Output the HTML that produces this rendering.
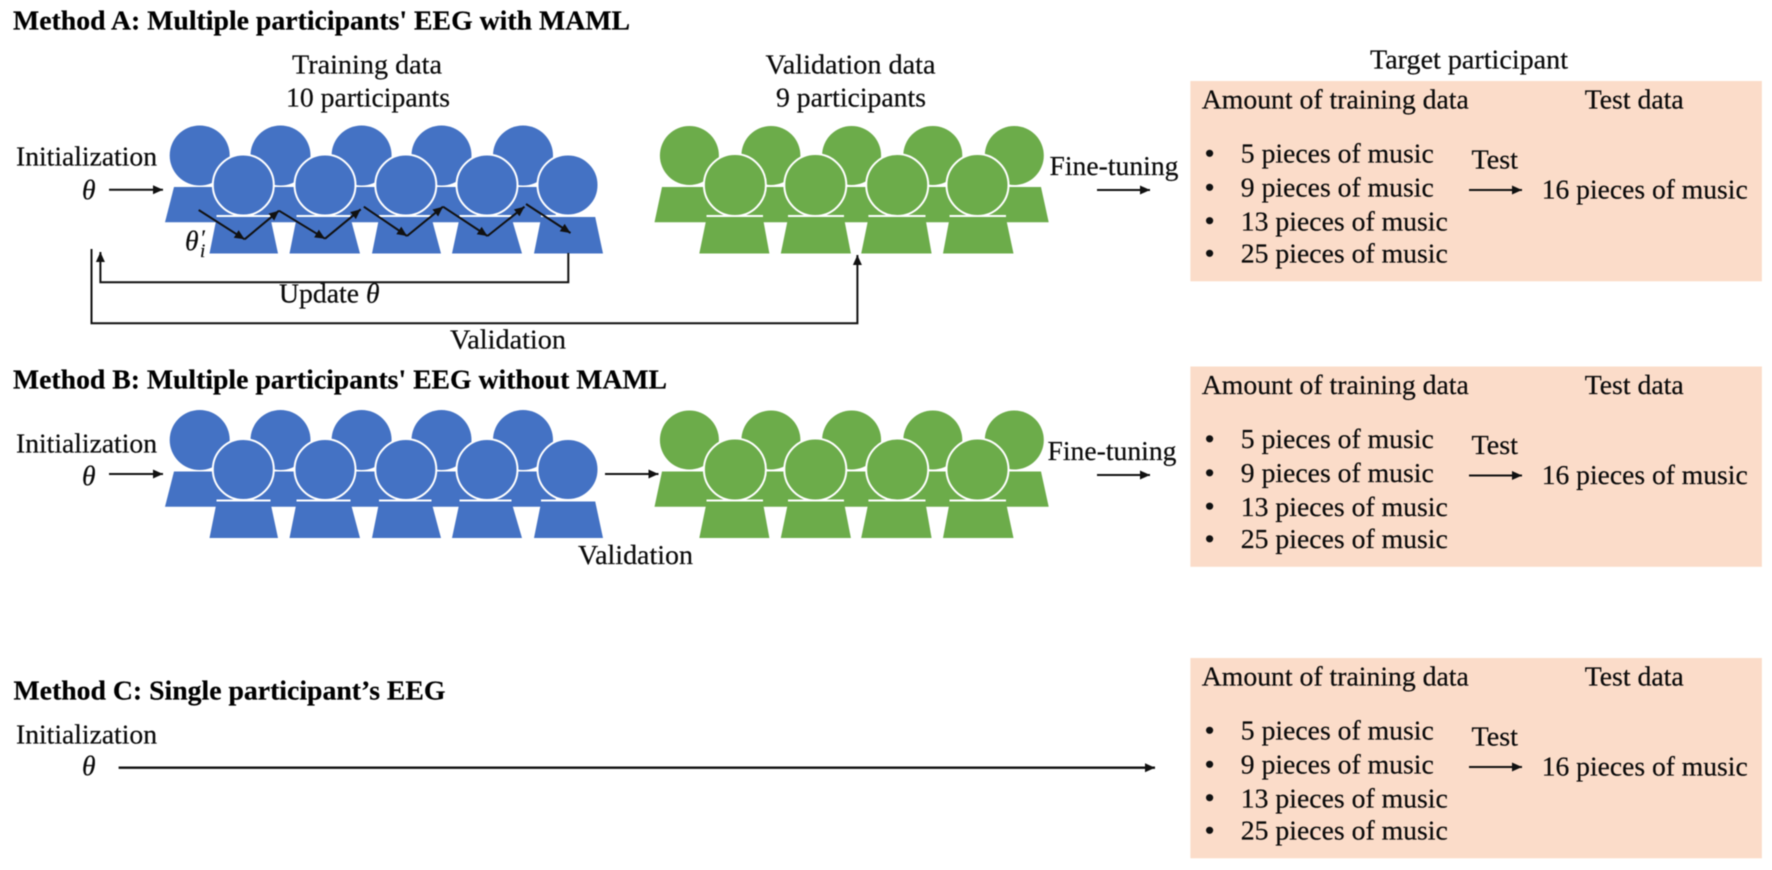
<!DOCTYPE html>
<html><head><meta charset="utf-8">
<style>
html,body{margin:0;padding:0;background:#fff;width:1772px;height:870px;overflow:hidden}
svg{display:block;filter:blur(0.5px)}
text{font-family:"Liberation Serif",serif;font-size:27.6px;fill:#0a0a0a;stroke:#0a0a0a;stroke-width:0.2px}
.b{font-weight:bold;fill:#000}
.m{font-style:italic}
.l{fill:none;stroke:#111;stroke-width:2}
</style></head><body>
<svg width="1772" height="870" viewBox="0 0 1772 870" xmlns="http://www.w3.org/2000/svg">
<defs>
<marker id="a" markerUnits="userSpaceOnUse" markerWidth="11" markerHeight="10" refX="10" refY="5" orient="auto"><path d="M0 0.5L10 5L0 9.5Z" fill="#111"/></marker>
<g id="blue">
<g fill="#4472c4">
<circle cx="199.7" cy="155.5" r="30"/><circle cx="280.5" cy="155.5" r="30"/><circle cx="361.6" cy="155.5" r="30"/><circle cx="441.5" cy="155.5" r="30"/><circle cx="523" cy="155.5" r="30"/>
<path d="M174 187H548L558 222.3H165Z"/>
</g>
<g fill="#4472c4" stroke="#fff" stroke-width="2">
<circle cx="243.3" cy="185" r="30.5"/><circle cx="325" cy="185" r="30.5"/><circle cx="405.8" cy="185" r="30.5"/><circle cx="487" cy="185" r="30.5"/><circle cx="568" cy="185" r="30.5"/>
</g>
<g fill="#4472c4">
<path d="M217 216H270L278 253.5H209.5Z"/><path d="M297 216H350L360 253.5H289.5Z"/><path d="M379.5 216H431L441 253.5H372Z"/><path d="M460 216H511L522 253.5H452Z"/><path d="M541.5 216H595L603 253.5H534Z"/>
</g>
<path d="M216.5 216H270.5M296.5 216H350.5M379 216H431.5M459.5 216H511.5M541 216H595.5" fill="none" stroke="#fff" stroke-width="2"/>
</g>
<g id="green">
<g fill="#6cac4a">
<circle cx="689.4" cy="155.5" r="29.5"/><circle cx="770.9" cy="155.5" r="29.5"/><circle cx="851.6" cy="155.5" r="29.5"/><circle cx="932.8" cy="155.5" r="29.5"/><circle cx="1014.3" cy="155.5" r="29.5"/>
<path d="M662 187H1041L1048.7 222.3H654.5Z"/>
</g>
<g fill="#6cac4a" stroke="#fff" stroke-width="2">
<circle cx="734.9" cy="185" r="31"/><circle cx="815.3" cy="185" r="31"/><circle cx="897.2" cy="185" r="31"/><circle cx="977.5" cy="185" r="31"/>
</g>
<g fill="#6cac4a">
<path d="M707 216H762.5L769.4 253.5H699.3Z"/><path d="M788.5 216H843.6L850.9 253.5H780.8Z"/><path d="M868.9 216H925L931.6 253.5H861.2Z"/><path d="M950 216H1005.5L1013.5 253.5H943Z"/>
</g>
<path d="M706.5 216H763M788 216H844M868.4 216H925.5M949.5 216H1006" fill="none" stroke="#fff" stroke-width="2"/>
</g>
<g id="panelshape">
<rect x="1190.4" y="81" width="571.5" height="200.3" fill="#fbdcc9"/>
<circle cx="1209.6" cy="153.3" r="3.6" fill="#111"/><circle cx="1209.6" cy="187.3" r="3.6" fill="#111"/><circle cx="1209.6" cy="220.7" r="3.6" fill="#111"/><circle cx="1209.6" cy="253.3" r="3.6" fill="#111"/>
<line class="l" x1="1469" y1="190" x2="1522" y2="190" marker-end="url(#a)"/>
</g>
</defs>

<!-- Method A -->
<text class="b" x="13" y="29.3" textLength="617" lengthAdjust="spacingAndGlyphs">Method A: Multiple participants' EEG with MAML</text>
<text x="292" y="73.3" textLength="150" lengthAdjust="spacingAndGlyphs">Training data</text>
<text x="286" y="106.7" textLength="164" lengthAdjust="spacingAndGlyphs">10 participants</text>
<text x="765.5" y="73.3" textLength="170" lengthAdjust="spacingAndGlyphs">Validation data</text>
<text x="776" y="106.7" textLength="150" lengthAdjust="spacingAndGlyphs">9 participants</text>
<text x="1370" y="68.3" textLength="198" lengthAdjust="spacingAndGlyphs">Target participant</text>
<text x="16" y="165.7" textLength="141" lengthAdjust="spacingAndGlyphs">Initialization</text>
<text class="m" x="82" y="199">θ</text>
<line class="l" x1="109" y1="189.7" x2="163" y2="189.7" marker-end="url(#a)"/>
<use href="#blue"/>
<use href="#green"/>
<g>
<polyline class="l" points="198.7,210 244.6,239.3" marker-end="url(#a)"/>
<polyline class="l" points="244.6,239.3 279,210.7" marker-end="url(#a)"/>
<polyline class="l" points="279,210.7 325,238.7" marker-end="url(#a)"/>
<polyline class="l" points="325,238.7 360.7,209.3" marker-end="url(#a)"/>
<polyline class="l" points="363.8,206.7 407,236" marker-end="url(#a)"/>
<polyline class="l" points="407,236 443,206.7" marker-end="url(#a)"/>
<polyline class="l" points="443,206.7 487.5,236" marker-end="url(#a)"/>
<polyline class="l" points="487.5,236 524.5,206.7" marker-end="url(#a)"/>
<polyline class="l" points="526,204 570.5,233" marker-end="url(#a)"/>
</g>
<text class="m" x="185" y="250">θ</text><text class="m" x="200" y="245" style="font-size:22px">′</text><text class="m" x="200" y="257" style="font-size:19px">i</text>
<polyline class="l" points="568.3,253 568.3,282.3 100.4,282.3 100.4,252" marker-end="url(#a)"/>
<polyline class="l" points="91.5,249 91.5,323.3 857.4,323.3 857.4,255" marker-end="url(#a)"/>
<text x="279" y="302.7" textLength="80" lengthAdjust="spacingAndGlyphs">Update</text><text class="m" x="366" y="302.7">θ</text>
<text x="450" y="348.3" textLength="116" lengthAdjust="spacingAndGlyphs">Validation</text>
<text x="1049.5" y="175" textLength="129" lengthAdjust="spacingAndGlyphs">Fine-tuning</text>
<line class="l" x1="1097" y1="190" x2="1150" y2="190" marker-end="url(#a)"/>
<use href="#panelshape"/>
<text x="1201.8" y="108.3" textLength="267" lengthAdjust="spacingAndGlyphs">Amount of training data</text>
<text x="1584.7" y="108.3" textLength="99" lengthAdjust="spacingAndGlyphs">Test data</text>
<text x="1240.8" y="162.7" textLength="193" lengthAdjust="spacingAndGlyphs">5 pieces of music</text>
<text x="1240.8" y="196.7" textLength="193" lengthAdjust="spacingAndGlyphs">9 pieces of music</text>
<text x="1240.8" y="230.7" textLength="207" lengthAdjust="spacingAndGlyphs">13 pieces of music</text>
<text x="1240.8" y="262.7" textLength="207" lengthAdjust="spacingAndGlyphs">25 pieces of music</text>
<text x="1471.5" y="168.3" textLength="46.5" lengthAdjust="spacingAndGlyphs">Test</text>
<text x="1541.7" y="198.3" textLength="206" lengthAdjust="spacingAndGlyphs">16 pieces of music</text>

<!-- Method B -->
<text class="b" x="13" y="388.3" textLength="654" lengthAdjust="spacingAndGlyphs">Method B: Multiple participants' EEG without MAML</text>
<text x="16" y="452.7" textLength="141" lengthAdjust="spacingAndGlyphs">Initialization</text>
<text class="m" x="82" y="485">θ</text>
<line class="l" x1="109" y1="474" x2="163" y2="474" marker-end="url(#a)"/>
<use href="#blue" y="284.5"/>
<use href="#green" y="284.5"/>
<line class="l" x1="605" y1="474" x2="658.5" y2="474" marker-end="url(#a)"/>
<text x="578" y="564" textLength="115" lengthAdjust="spacingAndGlyphs">Validation</text>
<text x="1047.5" y="460" textLength="129" lengthAdjust="spacingAndGlyphs">Fine-tuning</text>
<line class="l" x1="1097" y1="475" x2="1150" y2="475" marker-end="url(#a)"/>
<use href="#panelshape" y="285.5"/>
<text x="1201.8" y="393.8" textLength="267" lengthAdjust="spacingAndGlyphs">Amount of training data</text>
<text x="1584.7" y="393.8" textLength="99" lengthAdjust="spacingAndGlyphs">Test data</text>
<text x="1240.8" y="448.2" textLength="193" lengthAdjust="spacingAndGlyphs">5 pieces of music</text>
<text x="1240.8" y="482.2" textLength="193" lengthAdjust="spacingAndGlyphs">9 pieces of music</text>
<text x="1240.8" y="516.2" textLength="207" lengthAdjust="spacingAndGlyphs">13 pieces of music</text>
<text x="1240.8" y="548.2" textLength="207" lengthAdjust="spacingAndGlyphs">25 pieces of music</text>
<text x="1471.5" y="453.8" textLength="46.5" lengthAdjust="spacingAndGlyphs">Test</text>
<text x="1541.7" y="483.8" textLength="206" lengthAdjust="spacingAndGlyphs">16 pieces of music</text>

<!-- Method C -->
<text class="b" x="13.5" y="699.3" textLength="432" lengthAdjust="spacingAndGlyphs">Method C: Single participant’s EEG</text>
<text x="16" y="743.3" textLength="141" lengthAdjust="spacingAndGlyphs">Initialization</text>
<text class="m" x="82" y="775">θ</text>
<line class="l" x1="118.6" y1="767.7" x2="1155" y2="767.7" marker-end="url(#a)" style="stroke-width:2.4"/>
<use href="#panelshape" y="577"/>
<text x="1201.8" y="685.3" textLength="267" lengthAdjust="spacingAndGlyphs">Amount of training data</text>
<text x="1584.7" y="685.3" textLength="99" lengthAdjust="spacingAndGlyphs">Test data</text>
<text x="1240.8" y="739.7" textLength="193" lengthAdjust="spacingAndGlyphs">5 pieces of music</text>
<text x="1240.8" y="773.7" textLength="193" lengthAdjust="spacingAndGlyphs">9 pieces of music</text>
<text x="1240.8" y="807.7" textLength="207" lengthAdjust="spacingAndGlyphs">13 pieces of music</text>
<text x="1240.8" y="839.7" textLength="207" lengthAdjust="spacingAndGlyphs">25 pieces of music</text>
<text x="1471.5" y="745.3" textLength="46.5" lengthAdjust="spacingAndGlyphs">Test</text>
<text x="1541.7" y="775.3" textLength="206" lengthAdjust="spacingAndGlyphs">16 pieces of music</text>
</svg>
</body></html>
